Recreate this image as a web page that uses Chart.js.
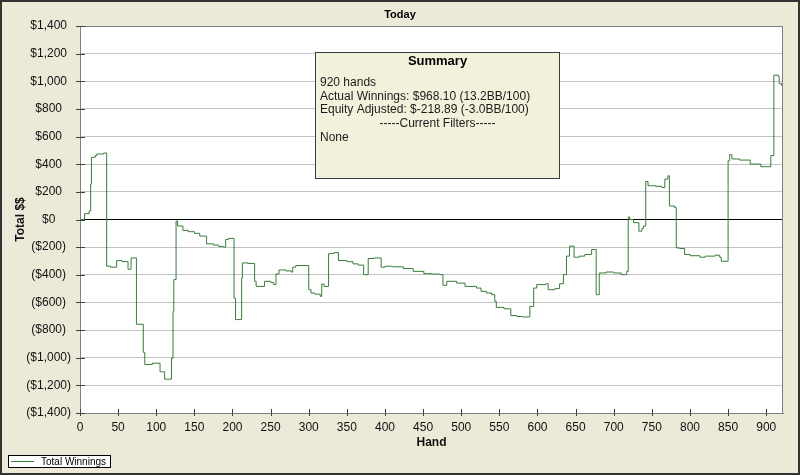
<!DOCTYPE html>
<html>
<head>
<meta charset="utf-8">
<title>Today</title>
<script src="https://cdn.jsdelivr.net/npm/chart.js@4.4.1/dist/chart.umd.min.js"></script>
<style>
  html, body { margin: 0; padding: 0; background: #ece9d8; }
</style>
</head>
<body>
<canvas id="chart" width="800" height="475"></canvas>
<script>
// running total after each hand (value changes at that hand)
const hands = [0, 6, 12, 14, 15, 20, 22, 31, 35, 40, 48, 55, 63, 67, 74, 83, 85, 95, 105, 111,
  120, 122, 123, 126, 128, 135, 142, 150, 157, 166, 175, 182, 188, 191, 195, 202, 204, 212, 213, 220,
  229, 231, 242, 250, 254, 257, 261, 270, 277, 279, 283, 300, 303, 308, 315, 317, 320, 326, 333, 339,
  350, 358, 365, 372, 378, 386, 395, 400, 410, 424, 437, 451, 462, 472, 476, 481, 494, 505, 520, 526,
  533, 540, 544, 546, 556, 565, 573, 580, 590, 595, 599, 611, 614, 623, 629, 634, 638, 642, 648, 655,
  662, 671, 677, 681, 690, 700, 710, 717, 719, 721, 726, 733, 737, 739, 742, 745, 755, 763, 767, 771,
  773, 780, 782, 786, 793, 800, 813, 820, 833, 839, 841, 850, 852, 855, 865, 879, 893, 906, 910, 916,
  917, 920];
const totals = [0, 42, 62, 258, 450, 462, 474, 481, -338, -345, -297, -305, -360, -278, -758, -961, -1049, -1040, -1102, -1155,
  -1005, -665, -435, -11, -47, -79, -88, -100, -120, -176, -185, -195, -200, -144, -137, -569, -724, -423, -314, -318,
  -447, -484, -447, -455, -471, -394, -365, -372, -380, -345, -333, -508, -532, -540, -556, -467, -484, -247, -240, -297,
  -305, -321, -330, -399, -282, -278, -345, -338, -342, -355, -375, -392, -395, -399, -476, -447, -460, -484, -496, -520,
  -532, -544, -593, -636, -646, -695, -702, -705, -629, -496, -471, -465, -508, -500, -465, -399, -265, -193, -273, -265,
  -253, -217, -544, -387, -380, -387, -399, -375, 18, 0, -23, -84, -65, -47, 275, 244, 240, 231, 292, 316,
  98, 86, -205, -210, -253, -262, -273, -265, -258, -273, -302, 425, 469, 438, 430, 401, 382, 462, 1044, 1036,
  983, 968];

const seriesName = "Total Winnings";
const chartTitle = "Today";
const summaryTitle = "Summary";
const summaryLines = [
  "920 hands",
  "Actual Winnings: $968.10 (13.2BB/100)",
  "Equity Adjusted: $-218.89 (-3.0BB/100)",
  "-----Current Filters-----",
  "None"
];

const FONT = "'Liberation Sans', Arial, sans-serif";
const LINE_COLOR = "#3b7b3b";

const money = v => {
  const s = "$" + Math.abs(v).toLocaleString("en-US");
  return v < 0 ? "(" + s + ")" : s;
};

const frame = {
  id: "frame",
  beforeDraw(chart) {
    const { ctx, chartArea: a } = chart;
    ctx.save();
    ctx.fillStyle = "#ece9d8";
    ctx.fillRect(0, 0, chart.width, chart.height);
    ctx.fillStyle = "#ffffff";
    ctx.fillRect(a.left, a.top, a.right - a.left, a.bottom - a.top);
    ctx.restore();
  },
  afterDraw(chart) {
    const { ctx, chartArea: a, scales } = chart;
    ctx.save();

    // plot border
    ctx.strokeStyle = "#808080";
    ctx.lineWidth = 1;
    ctx.strokeRect(Math.round(a.left) + 0.5, Math.round(a.top) + 0.5,
      Math.round(a.right - a.left) - 1, Math.round(a.bottom - a.top));

    // tick marks crossing the axes
    ctx.strokeStyle = "#404040";
    ctx.beginPath();
    scales.y.ticks.forEach(t => {
      const py = Math.round(scales.y.getPixelForValue(t.value)) + 0.5;
      ctx.moveTo(a.left - 4, py);
      ctx.lineTo(a.left + 5, py);
    });
    scales.x.ticks.forEach(t => {
      const px = Math.round(scales.x.getPixelForValue(t.value)) + 0.5;
      ctx.moveTo(px, a.bottom - 4);
      ctx.lineTo(px, a.bottom + 3);
    });
    ctx.stroke();

    // title
    ctx.fillStyle = "#000";
    ctx.font = "bold 11px " + FONT;
    ctx.textAlign = "center";
    ctx.textBaseline = "middle";
    ctx.fillText(chartTitle, 400, 15);

    // summary box
    ctx.fillStyle = "#f2f1dc";
    ctx.fillRect(315.5, 52.5, 244, 126);
    ctx.strokeStyle = "#3c3c3c";
    ctx.strokeRect(315.5, 52.5, 244, 126);
    ctx.fillStyle = "#000";
    ctx.font = "bold 13px " + FONT;
    ctx.fillText(summaryTitle, 437.5, 61);
    ctx.font = "12px " + FONT;
    ctx.fillStyle = "#1a1a1a";
    summaryLines.forEach((line, i) => {
      const y = 82.5 + i * 13.7;
      if (line.startsWith("-----")) {
        ctx.textAlign = "center";
        ctx.fillText(line, 437.5, y);
      } else {
        ctx.textAlign = "left";
        ctx.fillText(line, 320, y);
      }
    });

    // legend
    ctx.fillStyle = "#fff";
    ctx.fillRect(8.5, 455.5, 102, 12);
    ctx.strokeStyle = "#000";
    ctx.strokeRect(8.5, 455.5, 102, 12);
    ctx.strokeStyle = LINE_COLOR;
    ctx.beginPath();
    ctx.moveTo(11, 461.5);
    ctx.lineTo(34, 461.5);
    ctx.stroke();
    ctx.fillStyle = "#000";
    ctx.font = "10px " + FONT;
    ctx.textAlign = "left";
    ctx.fillText(seriesName, 41, 462);

    // outer border
    ctx.strokeStyle = "#333";
    ctx.lineWidth = 2;
    ctx.strokeRect(1, 1, chart.width - 2, chart.height - 2);
    ctx.restore();
  }
};

new Chart(document.getElementById("chart"), {
  type: "line",
  data: {
    datasets: [
      {
        label: seriesName,
        data: hands.map((h, i) => ({ x: h, y: totals[i] })),
        borderColor: LINE_COLOR,
        borderWidth: 1,
        stepped: true,
        pointRadius: 0,
        fill: false,
      },
    ],
  },
  options: {
    responsive: false,
    animation: false,
    layout: { padding: { top: 26, right: 17, bottom: 22, left: 0 } },
    plugins: {
      legend: { display: false },
      title: { display: false },
      tooltip: { enabled: false },
    },
    scales: {
      x: {
        type: "linear",
        min: 0,
        max: 922,
        ticks: {
          stepSize: 50,
          includeBounds: false,
          padding: 7,
          color: "#111",
          font: { family: FONT, size: 12 },
        },
        grid: { drawOnChartArea: false, drawTicks: false },
        border: { color: "#808080" },
        title: {
          display: true,
          text: "Hand",
          color: "#111",
          font: { family: FONT, size: 12, weight: "bold" },
          padding: { top: 0, bottom: 3 },
        },
        afterFit(scale) { scale.height = 40; },
      },
      y: {
        min: -1400,
        max: 1400,
        ticks: {
          stepSize: 200,
          crossAlign: "center",
          padding: 9,
          color: "#111",
          font: { family: FONT, size: 12 },
          callback: money,
        },
        grid: {
          color: ctx => (ctx.tick && ctx.tick.value === 0 ? "#000" : "#c4c4c4"),
          drawTicks: false,
        },
        border: { color: "#808080" },
        title: {
          display: true,
          text: "Total $$",
          color: "#111",
          font: { family: FONT, size: 12, weight: "bold" },
          padding: { top: 13, bottom: 0 },
        },
        afterFit(scale) { scale.width = 80; },
      },
    },
  },
  plugins: [frame],
});
</script>
</body>
</html>
